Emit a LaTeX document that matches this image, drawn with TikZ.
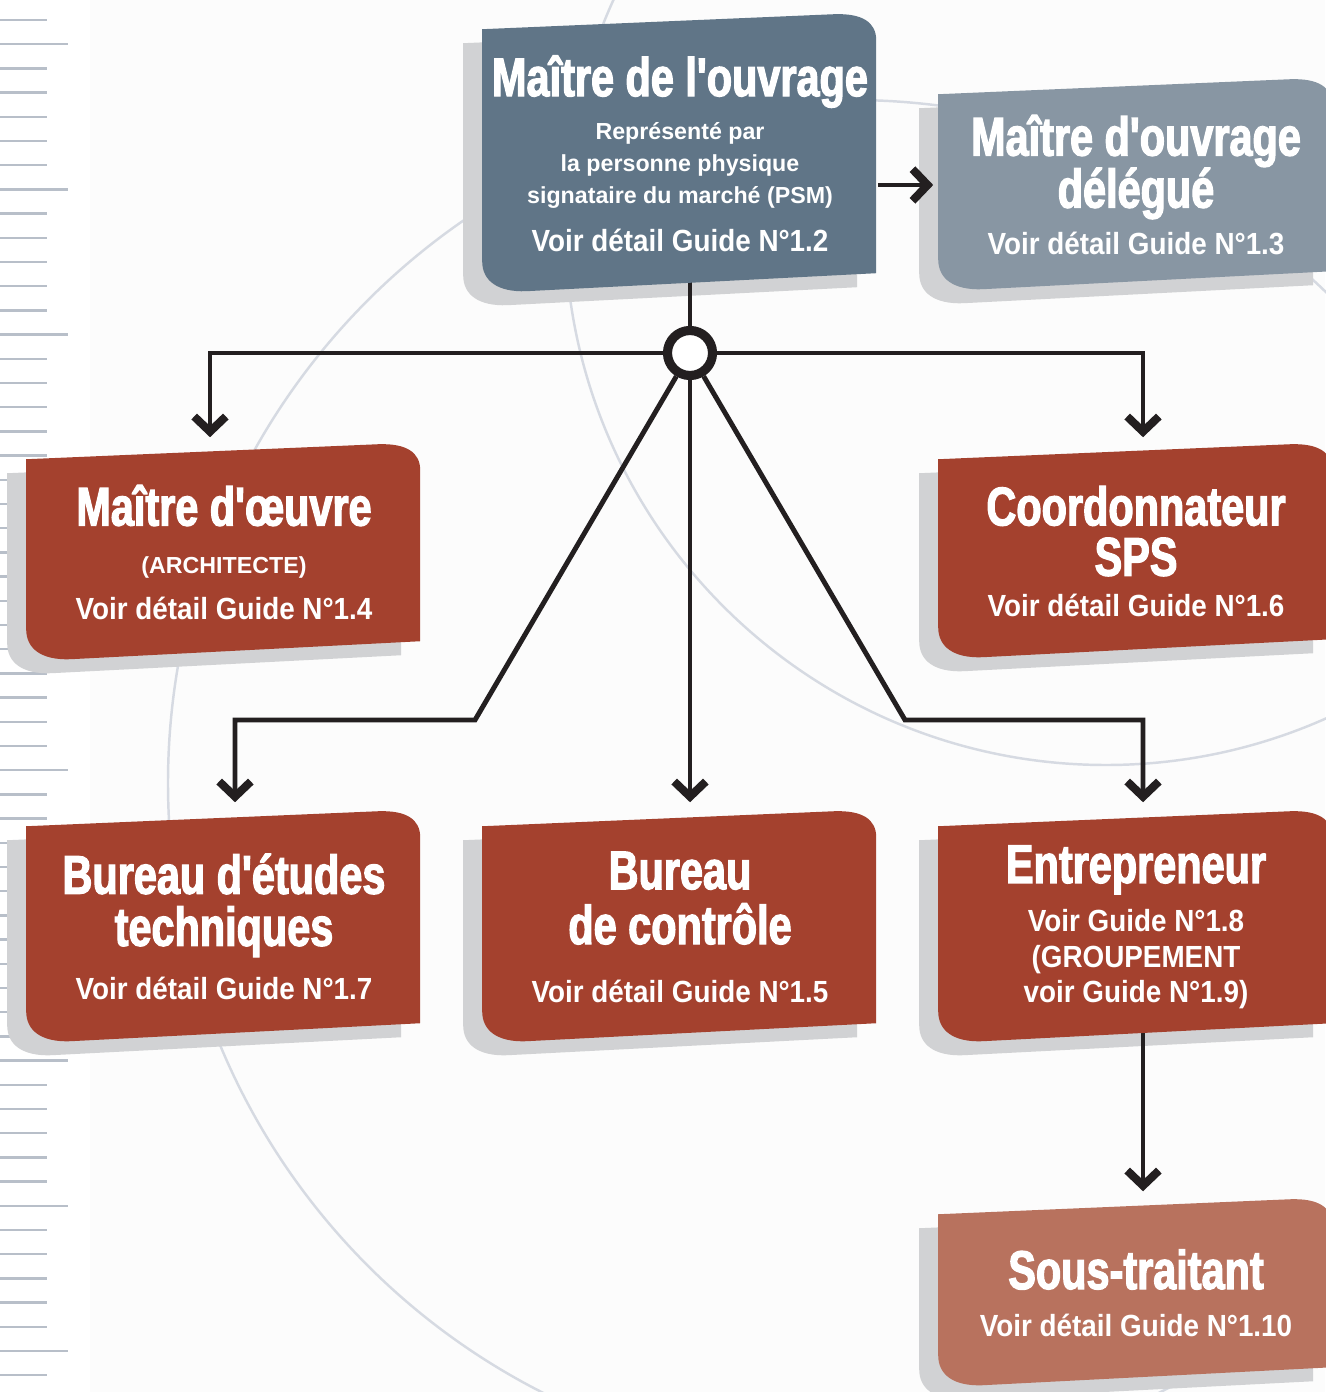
\documentclass[tikz,border=0pt]{standalone}
\usepackage{fontspec}
\setmainfont{Liberation Sans}
\newfontfamily\headfamily{Liberation Sans}[FakeStretch=0.76,BoldFeatures={FakeBold=2.2}]
\newfontfamily\guidefamily{Liberation Sans}[FakeStretch=0.91]
\usetikzlibrary{arrows.meta,calc}

\definecolor{slate}{RGB}{96,117,135}
\definecolor{steel}{RGB}{136,150,163}
\definecolor{rust}{RGB}{164,65,46}
\definecolor{clay}{RGB}{184,114,94}
\definecolor{cardshade}{RGB}{209,210,212}
\definecolor{ink}{RGB}{35,31,32}
\definecolor{orbit}{RGB}{214,218,226}
\definecolor{ticks}{RGB}{184,191,201}
\definecolor{paper}{RGB}{252,252,252}

\newcommand\headtxt{\headfamily\bfseries\fontsize{15.5}{15}\selectfont}
\newcommand\guidetxt{\guidefamily\bfseries\fontsize{8.7}{10}\selectfont}
\newcommand\smalltxt{\bfseries\fontsize{6.6}{9.1}\selectfont}

\pgfdeclarelayer{bg}
\pgfdeclarelayer{shadow}
\pgfdeclarelayer{wire}
\pgfdeclarelayer{card}
\pgfsetlayers{bg,shadow,wire,card,main}

\tikzset{
  cardpath/.style={insert path={(0,15) -- (352,0) .. controls (380,-1) and (394,8) .. (394,26)
      -- (394,{#1-18}) -- (44,#1) .. controls (16,{#1+1}) and (0,{#1-10}) .. (0,{#1-30}) -- cycle}},
}

\begin{document}
\begin{tikzpicture}[x=0.01cm, y=-0.01cm,
    card/.style={align=center, inner sep=0pt, minimum width=3.94cm, text=white,
      font={\fontsize{6.6}{9.1}\selectfont\lineskiplimit=-30pt}},
    hub/.style={circle, draw=ink, fill=white, line width=2.6pt, minimum size=0.45cm, inner sep=0pt},
    wire/.style={draw=ink, line width=1.4pt},
    >={Straight Barb[length=4.3pt,width=9pt,line width=2.3pt]}]
  \useasboundingbox (0,0) rectangle (1325,1392);

  % actors
  \node[card, minimum height=2.77cm] (mo) at (680,153.5)
    {{\headtxt Maître de l'ouvrage}\\[3.1pt]
     {\smalltxt Représenté par}\\
     {\smalltxt la personne physique}\\
     {\smalltxt signataire du marché (PSM)}\\[4.6pt]
     {\guidetxt Voir détail Guide N°1.2}};
  \node[card, minimum height=2.10cm] (mod) at (1136,185)
    {{\headtxt Maître d'ouvrage}\\[5.7pt]
     {\headtxt délégué}\\[4.3pt]
     {\guidetxt Voir détail Guide N°1.3}};
  \node[card, minimum height=2.15cm] (moe) at (224,552.5)
    {{\headtxt Maître d'œuvre}\\[4.6pt]
     {\smalltxt (ARCHITECTE)}\\[4pt]
     {\guidetxt Voir détail Guide N°1.4}};
  \node[card, minimum height=2.13cm] (sps) at (1136,551.5)
    {{\headtxt Coordonnateur}\\[5.2pt]
     {\headtxt SPS}\\[2.6pt]
     {\guidetxt Voir détail Guide N°1.6}};
  \node[card, minimum height=2.30cm] (bet) at (224,927)
    {{\headtxt Bureau d'études}\\[5.7pt]
     {\headtxt techniques}\\[6.3pt]
     {\guidetxt Voir détail Guide N°1.7}};
  \node[card, minimum height=2.30cm] (bdc) at (680,927)
    {{\headtxt Bureau}\\[6.5pt]
     {\headtxt de contrôle}\\[7.4pt]
     {\guidetxt Voir détail Guide N°1.5}};
  \node[card, minimum height=2.30cm] (ent) at (1136,927)
    {{\headtxt Entrepreneur}\\[4.8pt]
     {\guidetxt Voir Guide N°1.8}\\[0.9pt]
     {\guidetxt (GROUPEMENT}\\[0.9pt]
     {\guidetxt voir Guide N°1.9)}};
  \node[card, minimum height=1.86cm] (st) at (1136,1293)
    {{\headtxt Sous-traitant}\\[4.3pt]
     {\guidetxt Voir détail Guide N°1.10}};

  \node[hub] (hub) at (690,353) {};
  \coordinate (bl) at (475,720);
  \coordinate (br) at (905,720);

  % page background, ruler and orbits
  \begin{pgfonlayer}{bg}
    \fill[paper] (90,0) rectangle (1325,1392);
    \foreach \i in {0,...,56} {
      \pgfmathsetmacro\len{ifthenelse(mod(\i,6)==1,68,47)}
      \draw[ticks, line width=0.7pt] (0,{20+24.2*\i}) -- (\len,{20+24.2*\i});
    }
    \draw[orbit, line width=0.7pt] (851,783) circle[radius=683];
    \draw[orbit, line width=0.7pt] (1106,224) circle[radius=541];
  \end{pgfonlayer}

  % cards and their shadows
  \foreach \n/\c/\h in {mo/slate/277, mod/steel/210, moe/rust/215, sps/rust/213,
                        bet/rust/230, bdc/rust/230, ent/rust/230, st/clay/186} {
    \begin{pgfonlayer}{shadow}
      \fill[cardshade, shift={($(\n.north west)+(-19,14)$)}, cardpath=\h];
    \end{pgfonlayer}
    \begin{pgfonlayer}{card}
      \fill[\c, shift={(\n.north west)}, cardpath=\h];
    \end{pgfonlayer}
  }

  % links
  \begin{pgfonlayer}{wire}
    \draw[wire] (hub) -- (hub |- mo.center);
    \draw[wire,->,shorten >=0.05cm] (mo.east |- mod) -- (mod.west);
    \draw[wire,->,shorten >=0.07cm] (hub) -| ($(moe.north)+(-14,0)$);
    \draw[wire,->,shorten >=0.07cm] (hub) -| ($(sps.north)+(7,0)$);
    \draw[wire,->,shorten >=0.09cm] (hub) -- (bl) -| ($(bet.north)+(11,0)$);
    \draw[wire,->,shorten >=0.09cm] (hub) -- ($(bdc.north)+(10,0)$);
    \draw[wire,->,shorten >=0.09cm] (hub) -- (br) -| ($(ent.north)+(7,0)$);
    \draw[wire,->,shorten >=0.08cm] ($(ent.center)+(7,0)$) -- ($(st.north)+(7,0)$);
  \end{pgfonlayer}
\end{tikzpicture}
\end{document}
